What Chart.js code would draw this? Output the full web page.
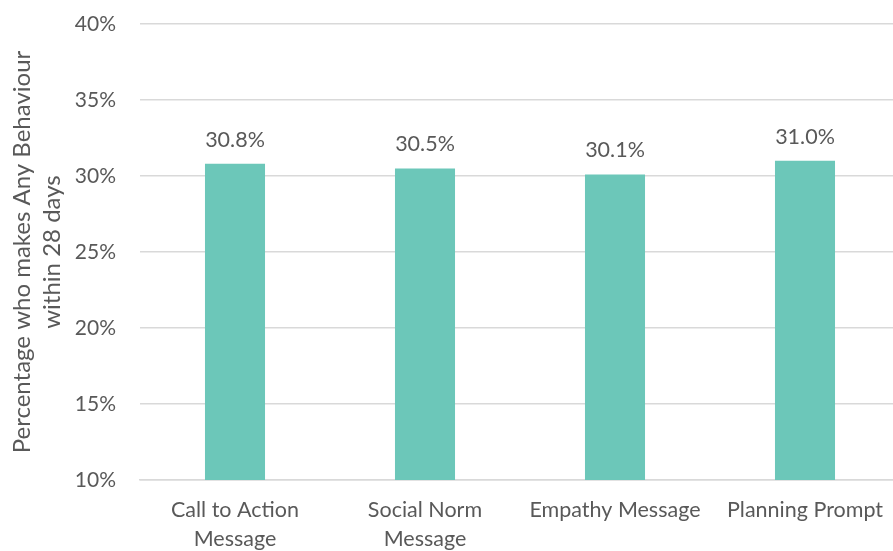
<!DOCTYPE html>
<html>
<head>
<meta charset="utf-8">
<script src="https://cdn.jsdelivr.net/npm/chart.js@4/dist/chart.umd.min.js"></script>
<style>
  html, body { margin: 0; padding: 0; overflow: hidden; background: #fff; }
  #wrap { width: 900px; height: 551px; }
</style>
</head>
<body>
<div id="wrap"><canvas id="grafico" width="900" height="551"></canvas></div>
<script>
// categorias y valores (%)
var categorias = [["Call to Action", "Message"], ["Social Norm", "Message"], "Empathy Message", "Planning Prompt"];
var valores = [30.8, 30.5, 30.1, 31.0];
var tituloEje = ["Percentage who makes Any Behaviour", "within 28 days"];

var gris = "#595959";
var fuente = "Lato, 'Open Sans', sans-serif";

// etiquetas encima de cada barra
var etiquetas = {
  id: "etiquetas",
  afterDatasetsDraw: function(chart) {
    var ctx = chart.ctx;
    var meta = chart.getDatasetMeta(0);
    ctx.save();
    ctx.fillStyle = gris;
    ctx.font = "21.5px " + fuente;
    ctx.textAlign = "center";
    ctx.textBaseline = "alphabetic";
    meta.data.forEach(function(bar, i) {
      ctx.fillText(valores[i].toFixed(1) + "%", bar.x, bar.y - 17);
    });
    ctx.restore();
  }
};

// titulo del eje y en dos lineas
var tituloY = {
  id: "tituloY",
  afterDraw: function(chart) {
    var ctx = chart.ctx;
    var area = chart.chartArea;
    ctx.save();
    ctx.fillStyle = gris;
    ctx.font = "24px " + fuente;
    ctx.textAlign = "center";
    ctx.textBaseline = "middle";
    ctx.translate(0, (area.top + area.bottom) / 2);
    ctx.rotate(-Math.PI / 2);
    ctx.fillText(tituloEje[0], 0, 22);
    ctx.fillText(tituloEje[1], 0, 52);
    ctx.restore();
  }
};

var canvas = document.getElementById("grafico");
var chart = new Chart(canvas, {
  type: "bar",
  data: {
    labels: categorias,
    datasets: [{
      data: valores,
      backgroundColor: "#6cc7b9",
      barPercentage: 0.316,
      categoryPercentage: 1
    }]
  },
  options: {
    responsive: false,
    animation: false,
    layout: { padding: { top: 24, right: 0, left: 0, bottom: 0 } },
    plugins: { legend: { display: false }, tooltip: { enabled: false } },
    scales: {
      x: {
        grid: { display: false, drawTicks: false },
        border: { color: "#d9d9d9", width: 1.5 },
        ticks: { color: gris, font: { family: fuente, size: 21.5, lineHeight: 1.35 }, padding: 16, maxRotation: 0, autoSkip: false },
        afterFit: function(scale) { scale.height = 71; }
      },
      y: {
        min: 10,
        max: 40,
        grid: { color: "#d9d9d9", lineWidth: 1.5, drawTicks: false },
        border: { display: false },
        ticks: {
          stepSize: 5,
          color: gris,
          font: { family: fuente, size: 21 },
          padding: 24,
          callback: function(v) { return v + "%"; }
        },
        afterFit: function(scale) {
          scale.width = 140;
          scale.paddingTop = 0;
          scale.paddingBottom = 0;
        }
      }
    }
  },
  plugins: [etiquetas, tituloY]
});
</script>
</body>
</html>
